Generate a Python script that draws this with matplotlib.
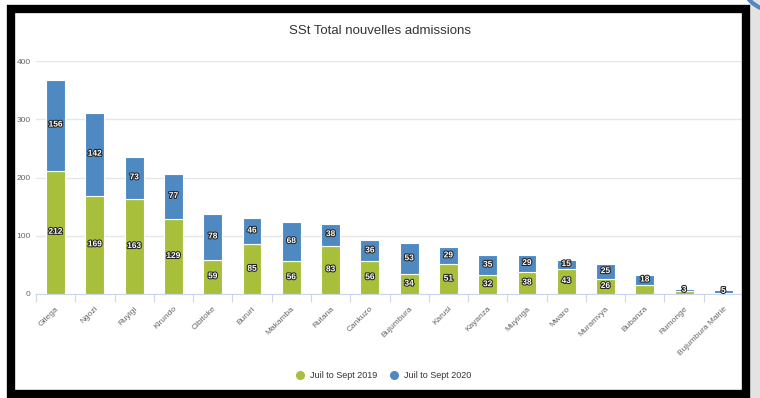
import matplotlib
matplotlib.use("Agg")
import matplotlib.pyplot as plt
import matplotlib.patheffects as pe
from matplotlib.lines import Line2D
from matplotlib.patches import Rectangle, Arc
import numpy as np

plt.rcParams['font.family'] = ['Liberation Sans', 'DejaVu Sans']

provinces = ["Gitega", "Ngozi", "Ruyigi", "Kirundo", "Cibitoke", "Bururi", "Makamba",
             "Rutana", "Cankuzo", "Bujumbura", "Karusi", "Kayanza", "Muyinga", "Mwaro",
             "Muramvya", "Bubanza", "Rumonge", "Bujumbura Mairie"]
admis_2019 = [212, 169, 163, 129, 59, 85, 56, 83, 56, 34, 51, 32, 38, 43, 26, 15, 5, 2]
admis_2020 = [156, 142, 73, 77, 78, 46, 68, 38, 36, 53, 29, 35, 29, 15, 25, 18, 3, 5]
# labels on the small segments that were left out of the chart
hidden_2019 = {"Bubanza", "Rumonge", "Bujumbura Mairie"}

green = "#a8bf3b"
blue = "#4f89c1"

fig = plt.figure(figsize=(7.6, 3.98), dpi=100)
ax = fig.add_axes([36 / 760, 104 / 398, 707 / 760, 233 / 398])
ax.set_facecolor("none")

x = np.arange(len(provinces))
ax.bar(x, admis_2019, width=0.48, color=green, edgecolor="white", linewidth=0.8, zorder=3)
ax.bar(x, admis_2020, width=0.48, bottom=admis_2019, color=blue, edgecolor="white",
       linewidth=0.8, zorder=3)

outline = [pe.withStroke(linewidth=1.5, foreground="#222222")]
for i, name in enumerate(provinces):
    if name not in hidden_2019:
        ax.text(x[i], admis_2019[i] / 2, str(admis_2019[i]), ha="center", va="center",
                fontsize=6, fontweight="bold", color="white", path_effects=outline, zorder=4)
    ax.text(x[i], admis_2019[i] + admis_2020[i] / 2, str(admis_2020[i]), ha="center",
            va="center", fontsize=6, fontweight="bold", color="white", path_effects=outline,
            zorder=4)

ax.set_xlim(-0.5, len(provinces) - 0.5)
ax.set_ylim(0, 400)
ax.set_yticks([0, 100, 200, 300, 400])
ax.tick_params(axis="y", length=0, pad=4, labelsize=6, labelcolor="#666666")
ax.grid(axis="y", color="#e6e6e6", linewidth=1, zorder=0)
ax.set_xticks(x)
ax.set_xticklabels(provinces, rotation=45, ha="right", rotation_mode="anchor",
                   fontsize=6, color="#666666")
ax.tick_params(axis="x", length=0, pad=8)
# category boundary ticks
ax.set_xticks(np.arange(len(provinces) + 1) - 0.5, minor=True)
ax.tick_params(axis="x", which="minor", length=6, color="#ccd6eb", width=0.8)
for s in ["top", "right", "left"]:
    ax.spines[s].set_visible(False)
ax.spines["bottom"].set_color("#ccd6eb")

fig.text(380 / 760, 1 - 31 / 398, "SSt Total nouvelles admissions", ha="center",
         va="center", fontsize=9.5, color="#333333")

handles = [Line2D([], [], marker="o", linestyle="", markersize=5.5, color=green),
           Line2D([], [], marker="o", linestyle="", markersize=5.5, color=blue)]
fig.legend(handles, ["Juil to Sept 2019", "Juil to Sept 2020"], loc="center",
           bbox_to_anchor=(381 / 760, 1 - 376 / 398), ncol=2, frameon=False,
           fontsize=6.5, labelcolor="#333333", handletextpad=0.1, columnspacing=0.8)

# black frame around the panel
fig.patches.append(Rectangle((10.5 / 760, 4 / 398), 735.5 / 760, 385 / 398, fill=False,
                             edgecolor="black", linewidth=6, transform=fig.transFigure,
                             zorder=5))
fig.patches.append(Rectangle((750 / 760, 0), 10 / 760, 1, color="#e3e3e3",
                             transform=fig.transFigure, zorder=-2))
fig.patches.append(Arc((775 / 760, 1.06), 70 / 760, 70 / 398, theta1=180, theta2=270,
                       edgecolor="#4f89c1", linewidth=3, transform=fig.transFigure,
                       zorder=6))

fig.savefig("out.png", dpi=100)
